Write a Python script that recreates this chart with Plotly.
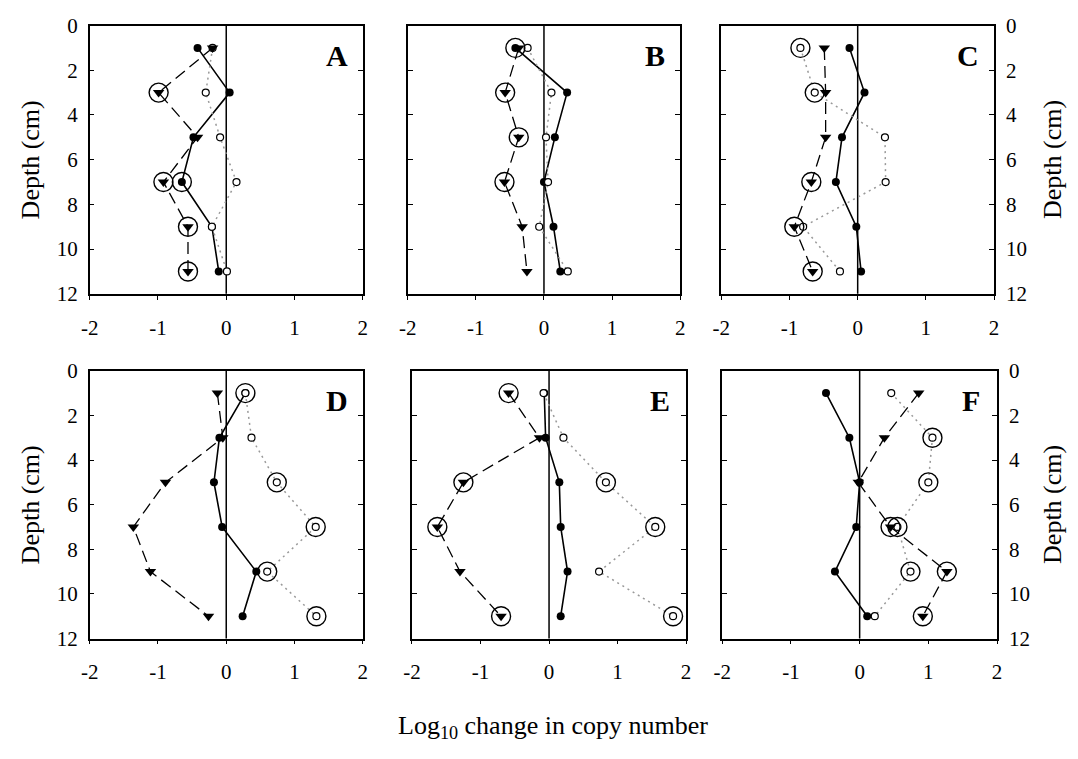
import plotly.graph_objects as go

# Sampling depths (cm)
depth = [1, 3, 5, 7, 9, 11]

panels = ["A", "B", "C", "D", "E", "F"]

# Log10 change in copy number per panel: filled circles (solid), open circles (dotted), triangles (dashed)
A_filled = [-0.42, 0.05, -0.48, -0.65, -0.21, -0.11]
A_open = [-0.20, -0.30, -0.09, 0.15, -0.21, 0.01]
A_tri = [-0.20, -0.99, -0.42, -0.92, -0.56, -0.56]

B_filled = [-0.42, 0.34, 0.16, 0.00, 0.14, 0.24]
B_open = [-0.24, 0.11, 0.03, 0.06, -0.07, 0.35]
B_tri = [-0.37, -0.57, -0.37, -0.58, -0.32, -0.25]

C_filled = [-0.12, 0.10, -0.23, -0.32, -0.02, 0.05]
C_open = [-0.84, -0.63, 0.40, 0.41, -0.80, -0.26]
C_tri = [-0.49, -0.47, -0.47, -0.68, -0.93, -0.66]

D_filled = [0.28, -0.10, -0.18, -0.06, 0.44, 0.24]
D_open = [0.28, 0.37, 0.74, 1.31, 0.60, 1.32]
D_tri = [-0.13, -0.05, -0.89, -1.36, -1.11, -0.26]

E_filled = [-0.07, -0.05, 0.15, 0.17, 0.27, 0.17]
E_open = [-0.08, 0.21, 0.83, 1.55, 0.73, 1.81]
E_tri = [-0.59, -0.14, -1.25, -1.63, -1.30, -0.70]

F_filled = [-0.49, -0.15, 0.00, -0.05, -0.36, 0.11]
F_open = [0.46, 1.06, 1.00, 0.55, 0.74, 0.22]
F_tri = [0.86, 0.36, -0.02, 0.45, 1.27, 0.92]

# Significant points (1 = circled)
A_sig_filled = [0, 0, 0, 1, 0, 0]
A_sig_open = [0, 0, 0, 0, 0, 0]
A_sig_tri = [0, 1, 0, 1, 1, 1]

B_sig_filled = [1, 0, 0, 0, 0, 0]
B_sig_open = [0, 0, 0, 0, 0, 0]
B_sig_tri = [0, 1, 1, 1, 0, 0]

C_sig_filled = [0, 0, 0, 0, 0, 0]
C_sig_open = [1, 1, 0, 0, 0, 0]
C_sig_tri = [0, 0, 0, 1, 1, 1]

D_sig_filled = [0, 0, 0, 0, 0, 0]
D_sig_open = [1, 0, 1, 1, 1, 1]
D_sig_tri = [0, 0, 0, 0, 0, 0]

E_sig_filled = [0, 0, 0, 0, 0, 0]
E_sig_open = [0, 0, 1, 1, 0, 1]
E_sig_tri = [1, 0, 1, 1, 0, 1]

F_sig_filled = [0, 0, 0, 0, 0, 0]
F_sig_open = [0, 1, 1, 1, 1, 0]
F_sig_tri = [0, 0, 0, 1, 1, 1]

x_ticks = [-2, -1, 0, 1, 2]
y_ticks = [0, 2, 4, 6, 8, 10, 12]

data = {
    "A": (A_filled, A_open, A_tri, A_sig_filled, A_sig_open, A_sig_tri),
    "B": (B_filled, B_open, B_tri, B_sig_filled, B_sig_open, B_sig_tri),
    "C": (C_filled, C_open, C_tri, C_sig_filled, C_sig_open, C_sig_tri),
    "D": (D_filled, D_open, D_tri, D_sig_filled, D_sig_open, D_sig_tri),
    "E": (E_filled, E_open, E_tri, E_sig_filled, E_sig_open, E_sig_tri),
    "F": (F_filled, F_open, F_tri, F_sig_filled, F_sig_open, F_sig_tri),
}

W, H = 1078, 759
FONT = "Liberation Serif, Times New Roman, serif"
TICK_SIZE = 21
TITLE_SIZE = 26

# panel frames in pixels: (left, right, top, bottom)
frames = {
    "A": (81.7, 358.5, 14, 291),
    "B": (404, 680, 14, 291),
    "C": (721.7, 998, 14, 291),
    "D": (81.7, 358.5, 370.5, 647),
    "E": (408.3, 686, 370.5, 647),
    "F": (722.7, 1001, 370.5, 647),
}

fig = go.Figure()
layout = {}
shapes = []
annotations = []

for i, p in enumerate(panels):
    n = i + 1
    xa = "x" if n == 1 else f"x{n}"
    ya = "y" if n == 1 else f"y{n}"
    filled, opn, tri, s_f, s_o, s_t = data[p]

    fig.add_trace(go.Scatter(
        x=filled, y=depth, xaxis=xa, yaxis=ya, mode="lines+markers",
        line=dict(color="black", width=1.6),
        marker=dict(symbol="circle", size=8, color="black"),
        showlegend=False, cliponaxis=False))
    fig.add_trace(go.Scatter(
        x=opn, y=depth, xaxis=xa, yaxis=ya, mode="lines+markers",
        line=dict(color="#999999", width=1.5, dash="2px,4px"),
        marker=dict(symbol="circle", size=7, color="white",
                    line=dict(color="black", width=1.2)),
        showlegend=False, cliponaxis=False))
    fig.add_trace(go.Scatter(
        x=tri, y=depth, xaxis=xa, yaxis=ya, mode="lines+markers",
        line=dict(color="black", width=1.3, dash="12px,6px"),
        marker=dict(symbol="triangle-down", size=10, color="black"),
        showlegend=False, cliponaxis=False))

    rx, ry = [], []
    for vals, sig in ((filled, s_f), (opn, s_o), (tri, s_t)):
        for v, d, s in zip(vals, depth, sig):
            if s:
                rx.append(v)
                ry.append(d)
    fig.add_trace(go.Scatter(
        x=rx, y=ry, xaxis=xa, yaxis=ya, mode="markers",
        marker=dict(symbol="circle-open", size=19, color="black",
                    line=dict(color="black", width=1.4)),
        showlegend=False, cliponaxis=False))

    l, r, t, b = frames[p]
    xkey = "xaxis" if n == 1 else f"xaxis{n}"
    ykey = "yaxis" if n == 1 else f"yaxis{n}"
    layout[xkey] = dict(
        domain=[l / W, r / W], anchor=ya, range=[-2, 2],
        tickvals=x_ticks, ticktext=[str(v) for v in x_ticks],
        ticks="outside", ticklen=4, tickwidth=1.2, tickcolor="black",
        ticklabelstandoff=10,
        showline=True, linecolor="black", linewidth=1.5, mirror=True,
        showgrid=False, zeroline=False, fixedrange=True,
        tickfont=dict(family=FONT, size=TICK_SIZE, color="black"))
    col = i % 3
    layout[ykey] = dict(
        domain=[1 - b / H, 1 - t / H], anchor=xa, range=[12, 0],
        tickvals=y_ticks,
        ticks="inside", ticklen=5, tickwidth=1.2, tickcolor="black",
        ticklabelstandoff=6,
        showline=True, linecolor="black", linewidth=1.5, mirror="ticks",
        showgrid=False, zeroline=False, fixedrange=True,
        side="right" if col == 2 else "left",
        showticklabels=(col != 1),
        tickfont=dict(family=FONT, size=TICK_SIZE, color="black"))

    # vertical reference line at zero change
    shapes.append(dict(type="line", xref=xa, yref=f"{ya} domain",
                       x0=0, x1=0, y0=0, y1=1,
                       line=dict(color="black", width=1.5), layer="below"))

    # panel letter
    annotations.append(dict(
        text=f"<b>{p}</b>", xref="paper", yref="paper",
        x=(r - 26) / W, y=1 - (t + 31) / H, xanchor="center", yanchor="middle",
        showarrow=False, font=dict(family=FONT, size=30, color="black")))

# axis titles
for yc in ((14 + 291) / 2, (370.5 + 647) / 2):
    annotations.append(dict(text="Depth (cm)", xref="paper", yref="paper",
                            x=22 / W, y=1 - yc / H, textangle=-90,
                            xanchor="center", yanchor="middle", showarrow=False,
                            font=dict(family=FONT, size=TITLE_SIZE, color="black")))
    annotations.append(dict(text="Depth (cm)", xref="paper", yref="paper",
                            x=1057 / W, y=1 - yc / H, textangle=-90,
                            xanchor="center", yanchor="middle", showarrow=False,
                            font=dict(family=FONT, size=TITLE_SIZE, color="black")))

annotations.append(dict(text="Log<sub>10</sub> change in copy number",
                        xref="paper", yref="paper", x=551 / W, y=1 - 738 / H,
                        xanchor="center", yanchor="middle", showarrow=False,
                        font=dict(family=FONT, size=TITLE_SIZE, color="black")))

fig.update_layout(
    width=W, height=H, margin=dict(l=0, r=0, t=0, b=0),
    paper_bgcolor="white", plot_bgcolor="white",
    shapes=shapes, annotations=annotations, showlegend=False,
    **layout)

fig.write_html("out.html")
